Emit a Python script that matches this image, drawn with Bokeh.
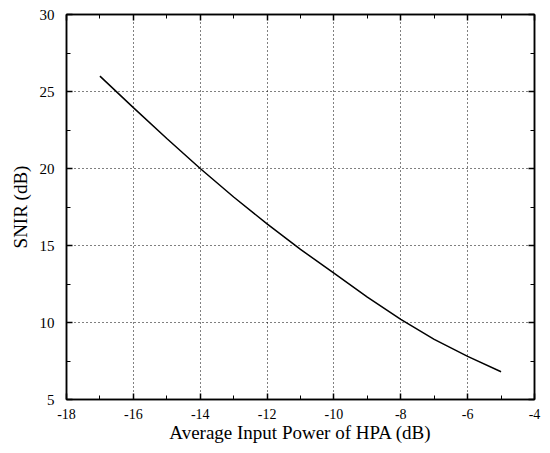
from bokeh.plotting import figure
from bokeh.models import Range1d, LinearAxis, FixedTicker
from bokeh.embed import file_html
from bokeh.resources import INLINE

# Data
input_power_db = [-17, -16, -15, -14, -13, -12, -11, -10, -9, -8, -7, -6, -5]
snir_db = [26.0, 23.95, 21.95, 20.0, 18.15, 16.4, 14.75, 13.2, 11.65, 10.2, 8.9, 7.8, 6.8]
x_ticks = [-18, -16, -14, -12, -10, -8, -6, -4]
y_ticks = [5, 10, 15, 20, 25, 30]

FONT = "Liberation Serif"

p = figure(width=542, height=445, output_backend="svg", toolbar_location=None,
           x_range=Range1d(-18, -4), y_range=Range1d(5, 30),
           min_border_left=66, min_border_right=8, min_border_top=14, min_border_bottom=46)
p.outline_line_color = "black"
p.outline_line_width = 1.5
p.background_fill_color = "white"
p.border_fill_color = "white"

p.line(input_power_db, snir_db, line_color="black", line_width=1.5)

for g in (p.xgrid[0], p.ygrid[0]):
    g.grid_line_color = "black"
    g.grid_line_dash = "1 3"
    g.grid_line_width = 1
p.xgrid[0].ticker = FixedTicker(ticks=x_ticks)
p.ygrid[0].ticker = FixedTicker(ticks=y_ticks)

xt = FixedTicker(ticks=x_ticks, minor_ticks=list(range(-17, -4, 2)))
yt = FixedTicker(ticks=y_ticks, minor_ticks=[7.5, 12.5, 17.5, 22.5, 27.5])

def style(ax):
    ax.axis_line_color = "black"
    ax.axis_line_width = 1.5
    ax.major_tick_in = 6
    ax.major_tick_out = 0
    ax.minor_tick_in = 4
    ax.minor_tick_out = 0
    ax.major_tick_line_color = "black"
    ax.minor_tick_line_color = "black"
    ax.major_tick_line_width = 1.5
    ax.major_label_text_font = FONT
    ax.major_label_text_font_size = "15px"
    ax.major_label_text_color = "black"
    ax.axis_label_text_font = FONT
    ax.axis_label_text_font_style = "normal"
    ax.axis_label_text_font_size = "19px"
    ax.axis_label_text_color = "black"

xa = p.xaxis[0]
xa.ticker = xt
xa.major_label_overrides = {t: str(t) for t in x_ticks}
xa.axis_label = "Average Input Power of HPA (dB)"
style(xa)
xa.major_label_text_font_size = "14px"
xa.major_label_standoff = 9
xa.axis_label_standoff = 0

ya = p.yaxis[0]
ya.ticker = yt
ya.major_label_overrides = {t: str(t) for t in y_ticks}
ya.axis_label = "SNIR (dB)"
ya.major_label_standoff = 12
ya.axis_label_standoff = 6
style(ya)

top = LinearAxis(ticker=xt, major_label_overrides={t: "" for t in x_ticks})
style(top)
top.major_label_standoff = 0
p.add_layout(top, "above")
right = LinearAxis(ticker=yt, major_label_overrides={t: "" for t in y_ticks})
style(right)
right.major_label_standoff = 0
p.add_layout(right, "right")

open("out.html", "w").write(file_html(p, INLINE))
